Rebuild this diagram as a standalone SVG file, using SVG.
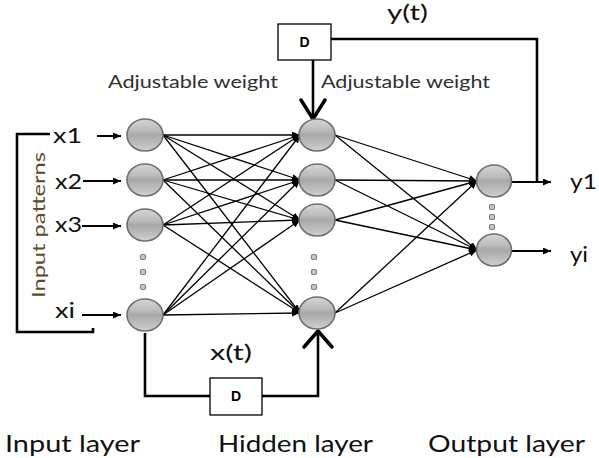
<svg xmlns="http://www.w3.org/2000/svg" width="599" height="458" viewBox="0 0 599 458">
<style>
.txt{font-family:Lato,"Open Sans","Liberation Sans",sans-serif;fill:#111}
.lbl{font-size:22px}
.aw{font-size:17px;fill:#2f2f2f}
.bot{font-size:23px}
.node{fill:url(#ng);stroke:#6e6e6e;stroke-width:1.6}
.dot{fill:#c8c8c8;stroke:#808080;stroke-width:1.2}
.w{stroke:#000;stroke-width:1.3;fill:none;marker-end:url(#ah)}
.in{stroke:#000;stroke-width:2;fill:none;marker-end:url(#ah)}
.thick{stroke:#000;stroke-width:2.6;fill:none}
.vee{stroke:#000;stroke-width:3.5;fill:none;stroke-linecap:round;stroke-linejoin:round}
.box{fill:#fff;stroke:#000;stroke-width:1.3}
.d{font-family:"Liberation Sans",Arial,sans-serif;font-size:14px;font-weight:bold;fill:#000}
</style>
<defs>
<linearGradient id="ng" x1="0" y1="0" x2="0" y2="1">
<stop offset="0" stop-color="#d6d6d6"/>
<stop offset="0.35" stop-color="#bcbcbc"/>
<stop offset="0.5" stop-color="#a8a8a8"/>
<stop offset="0.68" stop-color="#b6b6b6"/>
<stop offset="1" stop-color="#d0d0d0"/>
</linearGradient>
<marker id="ah" markerUnits="userSpaceOnUse" markerWidth="9" markerHeight="7" refX="8" refY="3.5" orient="auto">
<path d="M0,0 L8,3.5 L0,7 z" fill="#000"/>
</marker>
</defs>
<rect width="599" height="458" fill="#fff"/>

<g id="connectors">
<!-- bracket -->
<path class="thick" d="M50,134 L17,134 L17,332 L93,332 L93,328" stroke-width="2.4"/>
<!-- input arrows -->
<line class="in" x1="97" y1="136" x2="121" y2="136"/>
<line class="in" x1="83" y1="181" x2="121" y2="181"/>
<line class="in" x1="82" y1="226" x2="121" y2="226"/>
<line class="in" x1="82" y1="315" x2="121" y2="315"/>
<!-- input to hidden -->
<g>
<line class="w" x1="163" y1="135" x2="300" y2="135"/>
<line class="w" x1="163" y1="135" x2="300" y2="180"/>
<line class="w" x1="163" y1="135" x2="300" y2="220"/>
<line class="w" x1="163" y1="135" x2="300" y2="313"/>
<line class="w" x1="163" y1="180" x2="300" y2="135"/>
<line class="w" x1="163" y1="180" x2="300" y2="180"/>
<line class="w" x1="163" y1="180" x2="300" y2="220"/>
<line class="w" x1="163" y1="180" x2="300" y2="313"/>
<line class="w" x1="163" y1="225" x2="300" y2="135"/>
<line class="w" x1="163" y1="225" x2="300" y2="180"/>
<line class="w" x1="163" y1="225" x2="300" y2="220"/>
<line class="w" x1="163" y1="225" x2="300" y2="313"/>
<line class="w" x1="163" y1="315" x2="300" y2="135"/>
<line class="w" x1="163" y1="315" x2="300" y2="180"/>
<line class="w" x1="163" y1="315" x2="300" y2="220"/>
<line class="w" x1="163" y1="315" x2="300" y2="313"/>
</g>
<!-- hidden to output -->
<g>
<line class="w" x1="335" y1="135" x2="477" y2="181"/>
<line class="w" x1="335" y1="135" x2="477" y2="250"/>
<line class="w" x1="335" y1="180" x2="477" y2="181"/>
<line class="w" x1="335" y1="180" x2="477" y2="250"/>
<line class="w" x1="335" y1="220" x2="477" y2="181"/>
<line class="w" x1="335" y1="220" x2="477" y2="250"/>
<line class="w" x1="335" y1="313" x2="477" y2="181"/>
<line class="w" x1="335" y1="313" x2="477" y2="250"/>
</g>
<!-- outputs -->
<line class="in" x1="512" y1="182" x2="551" y2="182" stroke-width="2.4"/>
<line class="in" x1="512" y1="251" x2="551" y2="251" stroke-width="2.4"/>
<!-- top feedback -->
<path class="thick" d="M331,39 L537,39 L537,182"/>
<line class="thick" x1="313" y1="60" x2="313" y2="118"/>
<polyline class="vee" points="301,100 313,119 325,100"/>
<!-- bottom feedback -->
<path class="thick" d="M145,333 L145,396 L210,396"/>
<path class="thick" d="M262,396 L318,396 L318,332"/>
<polyline class="vee" points="304,347 318,331 332,347"/>
</g>

<g id="delay-top">
<rect class="box" x="278" y="24" width="53" height="36"/>
<text class="d" x="304.5" y="47" text-anchor="middle">D</text>
</g>
<g id="delay-bottom">
<rect class="box" x="210" y="378" width="52" height="37"/>
<text class="d" x="236" y="401" text-anchor="middle">D</text>
</g>

<g id="input-1"><ellipse class="node" cx="145" cy="135" rx="18" ry="16"/></g>
<g id="input-2"><ellipse class="node" cx="145" cy="180" rx="18" ry="16"/></g>
<g id="input-3"><ellipse class="node" cx="145" cy="225" rx="18" ry="16"/></g>
<g id="input-i"><ellipse class="node" cx="145" cy="315" rx="18" ry="16"/></g>
<g id="input-dots">
<rect class="dot" x="140.5" y="254.5" width="5" height="5" rx="1.5"/>
<rect class="dot" x="140.5" y="269.5" width="5" height="5" rx="1.5"/>
<rect class="dot" x="140.5" y="284.5" width="5" height="5" rx="1.5"/>
</g>

<g id="hidden-1"><ellipse class="node" cx="317" cy="135" rx="18" ry="16"/></g>
<g id="hidden-2"><ellipse class="node" cx="317" cy="180" rx="18" ry="16"/></g>
<g id="hidden-3"><ellipse class="node" cx="317" cy="220" rx="18" ry="16"/></g>
<g id="hidden-i"><ellipse class="node" cx="317" cy="313" rx="18" ry="16"/></g>
<g id="hidden-dots">
<rect class="dot" x="311.5" y="254.5" width="5" height="5" rx="1.5"/>
<rect class="dot" x="311.5" y="269.5" width="5" height="5" rx="1.5"/>
<rect class="dot" x="311.5" y="284.5" width="5" height="5" rx="1.5"/>
</g>

<g id="output-1"><ellipse class="node" cx="494" cy="181" rx="17.5" ry="16"/></g>
<g id="output-i"><ellipse class="node" cx="494" cy="250" rx="17.5" ry="16"/></g>
<g id="output-dots">
<rect class="dot" x="489.5" y="204.5" width="5" height="5" rx="1.5"/>
<rect class="dot" x="489.5" y="214.5" width="5" height="5" rx="1.5"/>
<rect class="dot" x="489.5" y="224.5" width="5" height="5" rx="1.5"/>
</g>

<g id="labels">
<text class="txt lbl" x="53" y="143" textLength="29" lengthAdjust="spacingAndGlyphs">x1</text>
<text class="txt lbl" x="55" y="189" textLength="27" lengthAdjust="spacingAndGlyphs">x2</text>
<text class="txt lbl" x="55" y="232" textLength="27" lengthAdjust="spacingAndGlyphs">x3</text>
<text class="txt lbl" x="55" y="318" textLength="20" lengthAdjust="spacingAndGlyphs">xi</text>
<text class="txt" x="45" y="225" transform="rotate(-90 45 225)" text-anchor="middle" style="font-size:17px;fill:#5b4a25" textLength="146" lengthAdjust="spacingAndGlyphs">Input patterns</text>
<text class="txt aw" x="108" y="88" textLength="170" lengthAdjust="spacingAndGlyphs">Adjustable weight</text>
<text class="txt aw" x="321" y="88" textLength="169" lengthAdjust="spacingAndGlyphs">Adjustable weight</text>
<text class="txt lbl" x="387" y="20" style="font-size:21px" textLength="41" lengthAdjust="spacingAndGlyphs">y(t)</text>
<text class="txt lbl" x="210" y="360" textLength="42" lengthAdjust="spacingAndGlyphs">x(t)</text>
<text class="txt lbl" x="570" y="189" textLength="27" lengthAdjust="spacingAndGlyphs">y1</text>
<text class="txt lbl" x="570" y="262" textLength="18" lengthAdjust="spacingAndGlyphs">yi</text>
<text class="txt bot" x="5" y="452" textLength="135" lengthAdjust="spacingAndGlyphs">Input layer</text>
<text class="txt bot" x="218" y="452" textLength="155" lengthAdjust="spacingAndGlyphs">Hidden layer</text>
<text class="txt bot" x="428" y="452" textLength="157" lengthAdjust="spacingAndGlyphs">Output layer</text>
</g>
</svg>
